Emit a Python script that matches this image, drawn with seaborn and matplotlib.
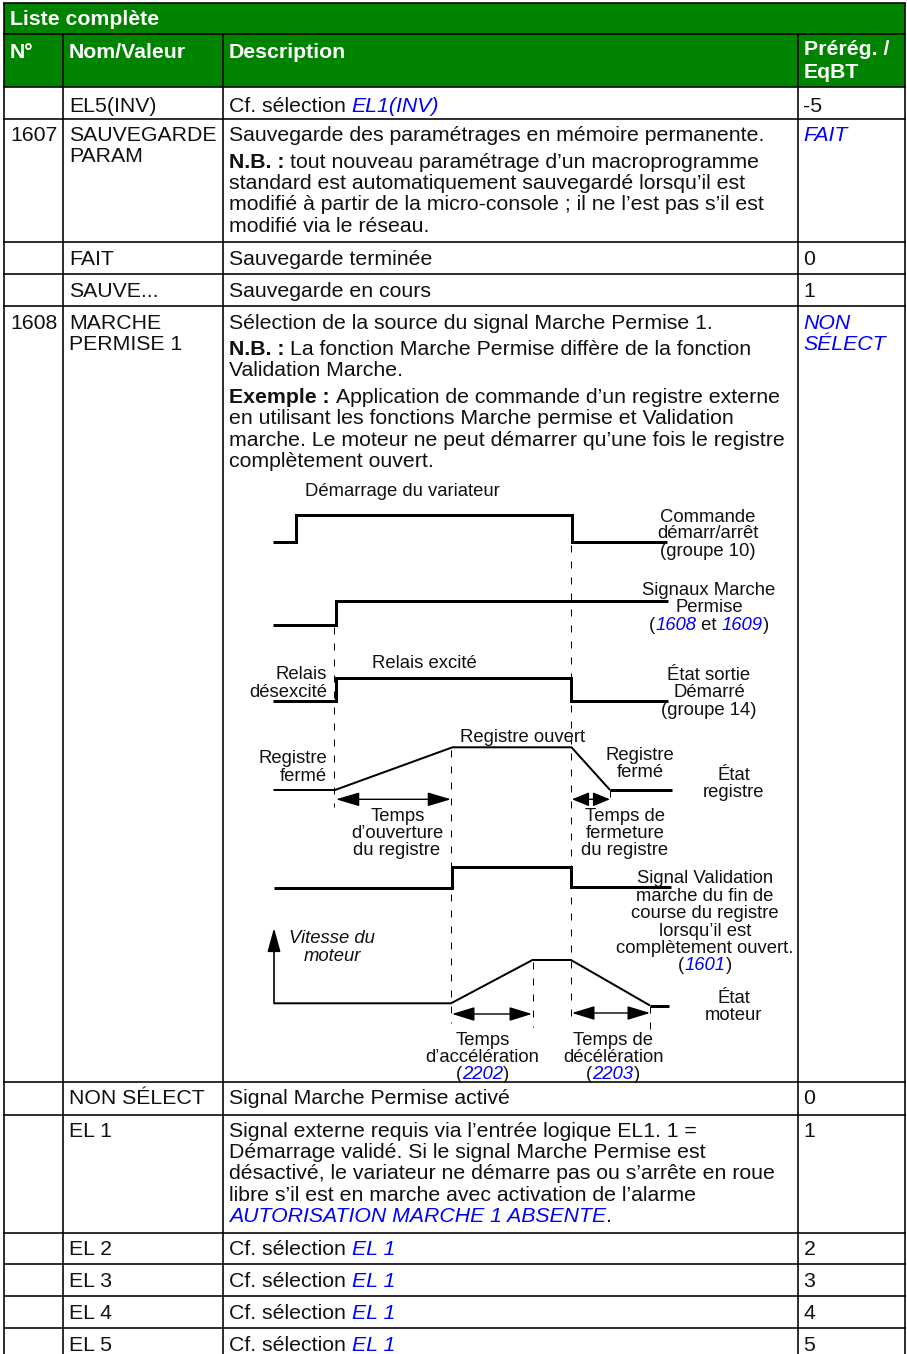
import matplotlib
matplotlib.use("Agg")
import matplotlib.pyplot as plt
import seaborn as sns
from matplotlib.font_manager import FontProperties

# ---------- data ----------
W, H = 907, 1354
col_edges = [4, 62.5, 222.5, 797.5, 905]
row_edges = [2.5, 34, 87, 118.7, 242, 274.3, 306.3, 1082.3, 1115, 1232.5, 1264, 1296, 1328.3]
row_bottom = 1354

sig_start_x = [272.7, 295.7, 295.7, 572, 572, 666.5]
sig_start_y = [542, 542, 515, 515, 542, 542]
sig_perm_x = [272.7, 335.5, 335.5, 668]
sig_perm_y = [625.3, 625.3, 601.3, 601.3]
sig_relay_x = [273, 335.5, 335.5, 570.5, 570.5, 668]
sig_relay_y = [701, 701, 678.3, 678.3, 701, 701]
reg_x = [273.5, 335, 452.5, 571.5, 610]
reg_y = [790, 790, 747.3, 747.3, 790]
reg_end_x = [610, 671.5]
reg_end_y = [790, 790]
val_x = [274, 452, 452, 571, 571, 671]
val_y = [888.3, 888.3, 867, 867, 887, 887]
motor_x = [274, 451, 532.5, 571, 650]
motor_y = [1003.3, 1003.3, 960, 960, 1005.5]
motor_end_x = [650, 668.5]
motor_end_y = [1005.5, 1005.5]

dashes = [
    (334, 627, 807), (571, 545, 1023), (451, 750, 1023),
    (532.5, 962, 1027), (610, 790, 806), (650, 1006, 1029),
]
spans = [
    (336, 451, 799.3, 1.45), (572, 610, 799.3, 1.05), (452, 532, 1014, 1.4), (572, 650, 1013, 1.4),
]
axis_arrow = (274, 1003.3, 928)

B, BB, BI, KI, WB = "n", "b", "i", "k", "w"
cell_lines = [
    (10, 25, "left", [("Liste complète", WB)]),
    (10, 57.5, "left", [("N°", WB)]),
    (69, 57.5, "left", [("Nom/Valeur", WB)]),
    (229, 57.5, "left", [("Description", WB)]),
    (803.5, 55, "left", [("Préré\u0067. /", WB)]),
    (803.5, 77.5, "left", [("EqBT", WB)]),
    (69, 111.7, "left", [("EL5(INV)", B)]),
    (229, 111.7, "left", [("Cf. sélection ", B), ("EL1(INV)", BI)]),
    (803.5, 111.7, "left", [("-5", B)]),
    (10, 141, "left", [("1607", B)]),
    (69, 141, "left", [("SAUVEGARDE", B)]),
    (69, 162.5, "left", [("PARAM", B)]),
    (229, 141, "left", [("Sauvegarde des paramétrages en mémoire permanente.", B)]),
    (803.5, 141, "left", [("FAIT", BI)]),
    (229, 168, "left", [("N.B. : ", BB), ("tout nouveau paramétrage d’un macroprogramme", B)]),
    (229, 189, "left", [("standard est automatiquement sauvegardé lorsqu’il est", B)]),
    (229, 210.5, "left", [("modifié à partir de la micro-console ; il ne l’est pas s’il est", B)]),
    (229, 232, "left", [("modifié via le réseau.", B)]),
    (69, 265, "left", [("FAIT", B)]),
    (229, 265, "left", [("Sauvegarde terminée", B)]),
    (803.5, 265, "left", [("0", B)]),
    (69, 297.3, "left", [("SAUVE...", B)]),
    (229, 297.3, "left", [("Sauvegarde en cours", B)]),
    (803.5, 297.3, "left", [("1", B)]),
    (10, 328.7, "left", [("1608", B)]),
    (69, 328.7, "left", [("MARCHE", B)]),
    (69, 349.5, "left", [("PERMISE 1", B)]),
    (229, 328.7, "left", [("Sélection de la source du signal Marche Permise 1.", B)]),
    (803.5, 328.7, "left", [("NON", BI)]),
    (803.5, 349.5, "left", [("SÉLECT", BI)]),
    (229, 355, "left", [("N.B. : ", BB), ("La fonction Marche Permise diffère de la fonction", B)]),
    (229, 376, "left", [("Validation Marche.", B)]),
    (229, 403, "left", [("Exemple : ", BB), ("Application de commande d’un registre externe", B)]),
    (229, 424.5, "left", [("en utilisant les fonctions Marche permise et Validation", B)]),
    (229, 446, "left", [("marche. Le moteur ne peut démarrer qu’une fois le registre", B)]),
    (229, 467, "left", [("complètement ouvert.", B)]),
    (69, 1104.3, "left", [("NON SÉLECT", B)]),
    (229, 1104.3, "left", [("Signal Marche Permise activé", B)]),
    (803.5, 1104.3, "left", [("0", B)]),
    (69, 1136.7, "left", [("EL 1", B)]),
    (229, 1136.7, "left", [("Signal externe requis via l’entrée logique EL1. 1 =", B)]),
    (803.5, 1136.7, "left", [("1", B)]),
    (229, 1158, "left", [("Démarrage validé. Si le signal Marche Permise est", B)]),
    (229, 1179, "left", [("désactivé, le variateur ne démarre pas ou s’arrête en roue", B)]),
    (229, 1201, "left", [("libre s’il est en marche avec activation de l’alarme", B)]),
    (229, 1222.5, "left", [("AUTORISATION MARCHE 1 ABSENTE", BI), (".", B)]),
    (69, 1255, "left", [("EL 2", B)]),
    (229, 1255, "left", [("Cf. sélection ", B), ("EL 1", BI)]),
    (803.5, 1255, "left", [("2", B)]),
    (69, 1287, "left", [("EL 3", B)]),
    (229, 1287, "left", [("Cf. sélection ", B), ("EL 1", BI)]),
    (803.5, 1287, "left", [("3", B)]),
    (69, 1319, "left", [("EL 4", B)]),
    (229, 1319, "left", [("Cf. sélection ", B), ("EL 1", BI)]),
    (803.5, 1319, "left", [("4", B)]),
    (69, 1350.7, "left", [("EL 5", B)]),
    (229, 1350.7, "left", [("Cf. sélection ", B), ("EL 1", BI)]),
    (803.5, 1350.7, "left", [("5", B)]),
]

diagram_lines = [
    (305, 496, "left", [("Démarrage du variateur", B)]),
    (708, 522, "center", [("Commande", B)]),
    (708, 538.5, "center", [("démarr/arrêt", B)]),
    (708, 556, "center", [("(groupe 10)", B)]),
    (709, 595, "center", [("Signaux Marche", B)]),
    (709, 612, "center", [("Permise", B)]),
    (709, 630, "center", [("(", B), ("1608", BI), (" et ", B), ("1609", BI), (")", B)]),
    (372, 668, "left", [("Relais excité", B)]),
    (327, 679.3, "right", [("Relais", B)]),
    (327, 696.7, "right", [("désexcité", B)]),
    (709, 680, "center", [("État sortie", B)]),
    (709, 697, "center", [("Démarré", B)]),
    (709, 715, "center", [("(groupe 14)", B)]),
    (460.5, 741.7, "left", [("Registre ouvert", B)]),
    (327, 763, "right", [("Registre", B)]),
    (327, 781, "right", [("fermé", B)]),
    (640, 760, "center", [("Registre", B)]),
    (640, 776.7, "center", [("fermé", B)]),
    (733.5, 780, "center", [("État", B)]),
    (733.5, 796.7, "center", [("registre", B)]),
    (398, 821, "center", [("Temps", B)]),
    (397, 838, "center", [("d’ouverture", B)]),
    (397, 855, "center", [("du registre", B)]),
    (625, 821, "center", [("Temps de", B)]),
    (625, 838, "center", [("fermeture", B)]),
    (625, 855, "center", [("du registre", B)]),
    (705, 883.3, "center", [("Signal Validation", B)]),
    (705, 900.7, "center", [("marche du fin de", B)]),
    (705, 917.7, "center", [("course du registre", B)]),
    (705, 935.7, "center", [("lorsqu’il est", B)]),
    (705, 952.7, "center", [("complètement ouvert.", B)]),
    (705, 970, "center", [("(", B), ("1601", BI), (")", B)]),
    (332, 943.3, "center", [("Vitesse du", KI)]),
    (332, 960.7, "center", [("moteur", KI)]),
    (733.5, 1003.3, "center", [("État", B)]),
    (733.5, 1020, "center", [("moteur", B)]),
    (482.5, 1045, "center", [("Temps", B)]),
    (482.5, 1061.7, "center", [("d’accélération", B)]),
    (482.5, 1079, "center", [("(", B), ("2202", BI), (")", B)]),
    (613, 1045, "center", [("Temps de", B)]),
    (613, 1061.7, "center", [("décélération", B)]),
    (613, 1079, "center", [("(", B), ("2203", BI), (")", B)]),
]

# ---------- style ----------
GREEN = "#008400"
BLUE = "#0000ff"
INK = "#111111"
PX = 0.72
FONT = "Liberation Sans"
TABLE_PT = 15.3
DIAGRAM_PT = 13.3

sns.set_theme(style="white")
plt.rcParams["font.family"] = [FONT, "DejaVu Sans"]

fig = plt.figure(figsize=(W / 100, H / 100), dpi=100)
ax = fig.add_axes([0, 0, 1, 1])
ax.set_xlim(0, W)
ax.set_ylim(H, 0)
ax.axis("off")

# green header bands
ax.axhspan(row_edges[0], row_edges[2], color=GREEN, lw=0, zorder=0,
           xmin=col_edges[0] / W, xmax=col_edges[-1] / W)


def line(xs, ys, lw_px=3, ls="-"):
    sns.lineplot(x=xs, y=ys, sort=False, estimator=None, color="black",
                 linewidth=lw_px * PX, linestyle=ls, ax=ax,
                 legend=False, errorbar=None, zorder=3)
    ln = ax.lines[-1]
    ln.set_solid_joinstyle("miter")
    ln.set_solid_capstyle("butt")
    ln.set_dash_capstyle("butt")


# table rules
for i, y in enumerate(row_edges):
    line([3, 906], [y, y], 1.6)
for i, x in enumerate(col_edges):
    top = row_edges[1] if 0 < i < len(col_edges) - 1 else row_edges[0]
    line([x, x], [top, row_bottom], 1.6)

# timing signals
line(sig_start_x, sig_start_y, 3)
line(sig_perm_x, sig_perm_y, 3)
line(sig_relay_x, sig_relay_y, 3)
line(reg_x, reg_y, 2)
line(reg_end_x, reg_end_y, 3)
line(val_x, val_y, 3)
line(motor_x, motor_y, 2)
line(motor_end_x, motor_end_y, 3)
for x, y0, y1 in dashes:
    line([x, x], [y0, y1], 1, (0, (7, 9)))

# arrows
for x0, x1, y, head in spans:
    ax.annotate("", xy=(x1, y), xytext=(x0, y),
                arrowprops=dict(arrowstyle=f"<|-|>,head_length={head},head_width=0.43",
                                mutation_scale=10, color="black", lw=1,
                                shrinkA=0, shrinkB=0), zorder=4)
ax.annotate("", xy=(axis_arrow[0], axis_arrow[2]), xytext=(axis_arrow[0], axis_arrow[1]),
            arrowprops=dict(arrowstyle="-|>,head_length=1.45,head_width=0.4",
                            mutation_scale=10, color="black", lw=1.2,
                            shrinkA=0, shrinkB=0), zorder=4)

# text
renderer = fig.canvas.get_renderer()


def props(style, size):
    return dict(
        n=dict(color=INK, weight="normal", style="normal"),
        b=dict(color=INK, weight="bold", style="normal"),
        i=dict(color=BLUE, weight="normal", style="italic"),
        k=dict(color=INK, weight="normal", style="italic"),
        w=dict(color="white", weight="bold", style="normal"),
    )[style] | dict(size=size, family=FONT)


def width(text, p):
    fp = FontProperties(family=p["family"], size=p["size"], weight=p["weight"], style=p["style"])
    a = renderer.get_text_width_height_descent(text + "|", fp, False)[0]
    b = renderer.get_text_width_height_descent("|", fp, False)[0]
    return a - b


def put(lines, size):
    for x, y, ha, runs in lines:
        ws = [width(t, props(s, size)) for t, s in runs]
        total = sum(ws)
        cx = x - (total / 2 if ha == "center" else total if ha == "right" else 0)
        for (t, s), w in zip(runs, ws):
            ax.text(cx, y, t, ha="left", va="baseline", zorder=5, **props(s, size))
            cx += w


put(cell_lines, TABLE_PT)
put(diagram_lines, DIAGRAM_PT)

fig.savefig("out.png", dpi=100)
